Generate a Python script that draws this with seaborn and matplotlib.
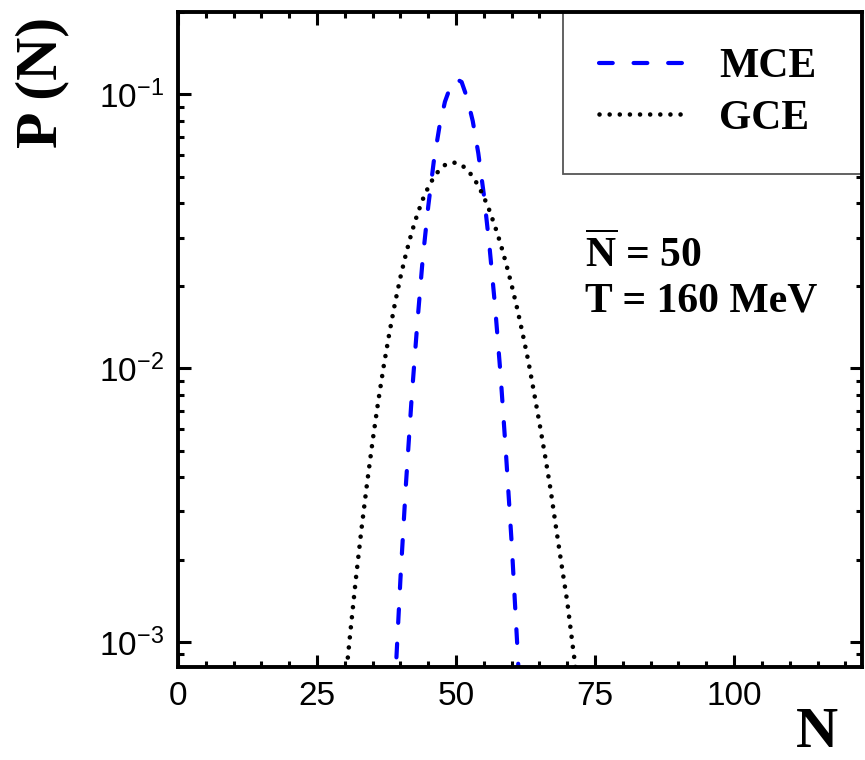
import matplotlib
matplotlib.use("Agg")
import matplotlib.pyplot as plt
import seaborn as sns
import pandas as pd

# ---- data ----
N_gce = list(range(30, 73))
P_gce = [0.00068, 0.00109, 0.00171, 0.00259, 0.00380, 0.00543, 0.00755, 0.0102,
         0.0134, 0.0172, 0.0215, 0.0262, 0.0312, 0.0363, 0.0413, 0.0458, 0.0498,
         0.0530, 0.0552, 0.0563, 0.0563, 0.0552, 0.0531, 0.0501, 0.0464, 0.0422,
         0.0377, 0.0330, 0.0285, 0.0241, 0.0201, 0.0165, 0.0133, 0.0106, 0.0082,
         0.0063, 0.0048, 0.0036, 0.0026, 0.0019, 0.0014, 0.00096, 0.00067]
N_mce = list(range(38, 63))
P_mce = [0.00026, 0.00068, 0.0017, 0.0038, 0.0077, 0.0143, 0.025, 0.039, 0.057,
         0.076, 0.094, 0.107, 0.114, 0.111, 0.097, 0.080, 0.061, 0.043, 0.028,
         0.0170, 0.0095, 0.0048, 0.0023, 0.00098, 0.00039]
series_labels = ["MCE", "GCE"]
x_ticks = [0, 25, 50, 75, 100]
y_ticks = [1e-3, 1e-2, 1e-1]
y_tick_labels = [r"$\mathregular{10^{-3}}$", r"$\mathregular{10^{-2}}$", r"$\mathregular{10^{-1}}$"]
annotations = [r"$\mathbf{\overline{N}}$ = 50", "T = 160 MeV"]
x_label = "N"
y_label = "P (N)"

sns.set_theme(style="ticks")
plt.rcParams["font.family"] = ["Liberation Serif", "DejaVu Sans"]
plt.rcParams["mathtext.fontset"] = "custom"
plt.rcParams["mathtext.bf"] = "Liberation Serif:bold"
plt.rcParams["mathtext.rm"] = "Liberation Serif"
for k in ["text.color", "axes.labelcolor", "xtick.color", "ytick.color", "axes.edgecolor"]:
    plt.rcParams[k] = "black"

df_mce = pd.DataFrame({"N": N_mce, "P": P_mce})
df_gce = pd.DataFrame({"N": N_gce, "P": P_gce})

fig = plt.figure(figsize=(8.65, 7.6), dpi=100)
ax = fig.add_axes([178 / 865, 93 / 760, 684 / 865, 655 / 760])

sns.lineplot(data=df_mce, x="N", y="P", ax=ax, color="#0000ff", lw=3.0,
             linestyle=(0, (3.3, 5.0)), dash_capstyle="round", label=series_labels[0])
sns.lineplot(data=df_gce, x="N", y="P", ax=ax, color="black", lw=3.3,
             linestyle=(0, (0.01, 2.2)), dash_capstyle="round", label=series_labels[1])

ax.set_yscale("log")
ax.set_xlim(0, 123)
ax.set_ylim(8.1e-4, 0.2)

ax.set_xticks(x_ticks)
ax.set_xticklabels([str(t) for t in x_ticks])
ax.set_xticks(range(5, 123, 5), minor=True)
ax.set_yticks(y_ticks)
ax.set_yticklabels(y_tick_labels)

for lab in ax.get_xticklabels() + ax.get_yticklabels():
    lab.set_family("Liberation Sans")
    lab.set_fontsize(24)
    lab.set_color("black")

ax.tick_params(which="both", direction="in", top=True, right=True, width=2.2, color="black")
ax.tick_params(which="major", length=9)
ax.tick_params(which="minor", length=4.5)
ax.tick_params(axis="x", which="major", pad=10)
ax.tick_params(axis="y", which="major", pad=10)

for s in ax.spines.values():
    s.set_linewidth(2.8)
    s.set_color("black")

ax.set_xlabel(x_label, fontsize=42, fontweight="bold", color="black")
ax.set_ylabel(y_label, fontsize=43, fontweight="bold", color="black")
ax.xaxis.label.set_verticalalignment("center")
ax.yaxis.label.set_verticalalignment("center")
ax.xaxis.set_label_coords((817 - 178) / 684, (667 - 733) / 655)
ax.yaxis.set_label_coords((42 - 178) / 684, (667 - 82) / 655)

leg = ax.legend(loc="upper left", bbox_to_anchor=(0.563, 0.0, 0.437, 1.0), mode="expand",
                borderaxespad=0, frameon=True, fancybox=False, framealpha=1,
                edgecolor="#555555", prop={"family": "Liberation Serif", "weight": "bold", "size": 30},
                handlelength=2.15, handletextpad=0.72, borderpad=0.87, labelspacing=0.32)
leg.get_frame().set_linewidth(1.3)
leg.set_zorder(2.2)
for t in leg.get_texts():
    t.set_color("black")

ax.text(0.595, 0.611, annotations[0], transform=ax.transAxes, fontsize=30,
        fontweight="bold", va="baseline", ha="left", color="black")
ax.text(0.595, 0.542, annotations[1], transform=ax.transAxes, fontsize=30,
        fontweight="bold", va="baseline", ha="left", color="black")

fig.savefig("out.png", dpi=100)
